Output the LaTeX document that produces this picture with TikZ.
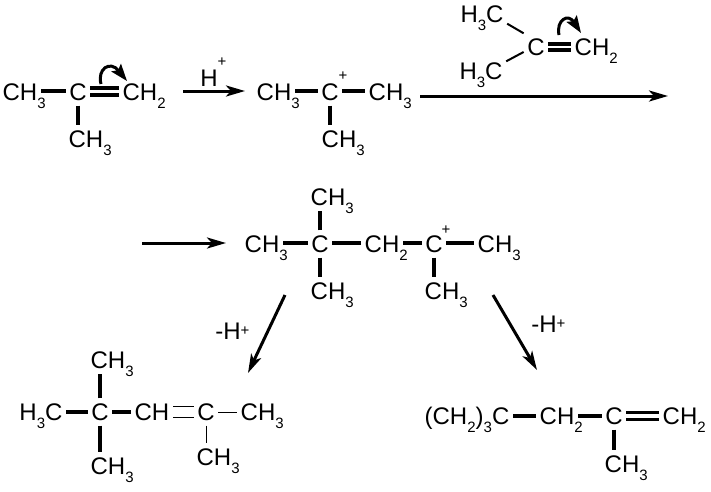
\documentclass[tikz,border=0pt]{standalone}
\usepackage{fontspec}
\setmainfont{Liberation Sans}
\usetikzlibrary{arrows.meta}
\newcommand{\lowd}[1]{\raisebox{-8pt}{\fontsize{15}{16}\selectfont #1}}
\newcommand{\tailsub}[1]{\rlap{\lowd{#1}}}
\newcommand{\chthree}{CH\tailsub{3}}
\newcommand{\chtwo}{CH\tailsub{2}}
\newcommand{\hthreec}{H\lowd{3}C}
\newcommand{\plusfont}{\fontsize{15}{15}\selectfont}
\tikzset{
  atom/.style={font=\fontsize{24}{26}\selectfont, inner xsep=3.5pt, inner ysep=5pt, text height=17pt, text depth=0pt},
  plusmark/.style={inner sep=0pt, font=\plusfont},
  bond/.style={line width=3.1pt},
  medbond/.style={line width=2pt},
  thinbond/.style={line width=0.9pt},
  rarrow/.style={line width=3pt, -{Stealth[length=19pt,width=11pt,inset=5pt]}},
  curlyarrow/.style={line width=3pt, -{Stealth[length=17pt,width=12pt,inset=3pt]}}
}
\begin{document}
\begin{tikzpicture}[x=1pt,y=-1pt]
\useasboundingbox[fill=white] (0,0) rectangle (711,491);
% first molecule
\node[atom] (a1) at (20,92) {\chthree};
\node[atom] (a2) at (78,92) {C};
\node[atom] (a3) at (140,92) {\chtwo};
\node[atom] (a4) at (86,139) {\chthree};
\draw[bond] ([yshift=1pt]a1.east) -- ([yshift=1pt]a2.west);
\draw[bond] ([yshift=4pt]a2.east) -- ([yshift=4pt]a3.west);
\draw[bond] ([yshift=-3pt]a2.east) -- ([yshift=-3pt]a3.west);
\draw[bond] (a2.south) -- (a2.south |- a4.north);
\coordinate (c1s) at (101,84);
\coordinate (c1e) at (127,81);
\draw[curlyarrow] (c1s) .. controls (97,69) and (110,60) .. (c1e);
% H+ arrow
\node[atom] (h1) at (209,78) {H};
\node[plusmark] (p1) at (222,62) {+};
\coordinate (r1s) at (183,91);
\coordinate (r1e) at (245,91);
\draw[rarrow] (r1s) -- (r1e);
% second molecule
\node[atom] (b1) at (274,92) {\chthree};
\node[atom] (b2) at (330,92) {C};
\node[atom] (b3) at (386,92) {\chthree};
\node[atom] (b4) at (339,139) {\chthree};
\node[plusmark] (p2) at (343,76) {+};
\draw[bond] ([yshift=1pt]b1.east) -- ([yshift=1pt]b2.west);
\draw[bond] ([yshift=1pt]b2.east) -- ([yshift=1pt]b3.west);
\draw[bond] (b2.south) -- (b2.south |- b4.north);
% long arrow
\coordinate (r2s) at (420,96);
\coordinate (r2e) at (668,96);
\draw[rarrow] (r2s) -- (r2e);
% top-right alkene
\node[atom] (t1) at (482,14) {\hthreec};
\node[atom] (t2) at (481,71) {\hthreec};
\node[atom] (t3) at (536,47) {C};
\node[atom] (t4) at (592,47) {\chtwo};
\draw[medbond] ([yshift=4pt]t1.south east) -- (t3.north west);
\draw[medbond] ([yshift=-4pt]t2.north east) -- ([yshift=-5pt]t3.west);
\draw[bond] ([yshift=3pt]t3.east) -- ([yshift=3pt]t4.west);
\draw[bond] ([yshift=-3pt]t3.east) -- ([yshift=-3pt]t4.west);
\coordinate (c2s) at (559,35);
\coordinate (c2e) at (581,33);
\draw[curlyarrow] (c2s) .. controls (556,20) and (568,13) .. (c2e);
% row 3 arrow
\coordinate (r3s) at (142,243);
\coordinate (r3e) at (226,243);
\draw[rarrow] (r3s) -- (r3e);
% cation
\node[atom] (m1) at (262,244) {\chthree};
\node[atom] (m2) at (320,244) {C};
\node[atom] (m3) at (328,197) {\chthree};
\node[atom] (m4) at (328,291) {\chthree};
\node[atom] (m5) at (382,244) {\chtwo};
\node[atom] (m6) at (434,244) {C};
\node[atom] (m7) at (495,244) {\chthree};
\node[atom] (m8) at (442,291) {\chthree};
\node[plusmark] (p3) at (446,230) {+};
\draw[bond] ([yshift=1pt]m1.east) -- ([yshift=1pt]m2.west);
\draw[bond] ([yshift=1pt]m2.east) -- ([yshift=1pt]m5.west);
\draw[bond] ([yshift=1pt]m5.east) -- ([yshift=1pt]m6.west);
\draw[bond] ([yshift=1pt]m6.east) -- ([yshift=1pt]m7.west);
\draw[bond] (m2.north) -- (m2.north |- m3.south);
\draw[bond] (m2.south) -- (m2.south |- m4.north);
\draw[bond] (m6.south) -- (m6.south |- m8.north);
% branch arrows
\coordinate (d1s) at (285,295);
\coordinate (d1e) at (248,373);
\coordinate (d2s) at (493,295);
\coordinate (d2e) at (537,370);
\draw[rarrow] (d1s) -- (d1e);
\draw[rarrow] (d2s) -- (d2e);
\node[atom] (l1) at (228,331) {-H\rlap{\raisebox{4pt}{\plusfont +}}};
\node[atom] (l2) at (544,324) {-H\rlap{\raisebox{4pt}{\plusfont +}}};
% bottom-left product
\node[atom] (q1) at (41,412) {\hthreec};
\node[atom] (q2) at (100,412) {C};
\node[atom] (q3) at (108,360) {\chthree};
\node[atom] (q4) at (108,466) {\chthree};
\node[atom] (q5) at (152,412) {CH};
\node[atom] (q6) at (206,412) {C};
\node[atom] (q7) at (258,412) {\chthree};
\node[atom] (q8) at (214,457) {\chthree};
\draw[bond] (q1.east) -- (q2.west);
\draw[bond] (q2.east) -- (q5.west);
\draw[bond] (q2.north) -- (q2.north |- q3.south);
\draw[bond] (q2.south) -- (q2.south |- q4.north);
\draw[thinbond] ([yshift=5.5pt]q5.east) -- ([yshift=5.5pt]q6.west);
\draw[thinbond] ([yshift=-5.5pt]q5.east) -- ([yshift=-5.5pt]q6.west);
\draw[thinbond] (q6.east) -- (q7.west);
\draw[thinbond] (q6.south) -- (q6.south |- q8.north);
% bottom-right product
\node[atom] (s1) at (467,416) {(CH\lowd{2})\lowd{3}C};
\node[atom] (s2) at (557,416) {\chtwo};
\node[atom] (s3) at (614,416) {C};
\node[atom] (s4) at (680,416) {\chtwo};
\node[atom] (s5) at (622,464) {\chthree};
\draw[bond] (s1.east) -- (s2.west);
\draw[bond] (s2.east) -- (s3.west);
\draw[bond] ([yshift=3.2pt]s3.east) -- ([yshift=3.2pt]s4.west);
\draw[bond] ([yshift=-3.2pt]s3.east) -- ([yshift=-3.2pt]s4.west);
\draw[bond] (s3.south) -- (s3.south |- s5.north);
\end{tikzpicture}
\end{document}
